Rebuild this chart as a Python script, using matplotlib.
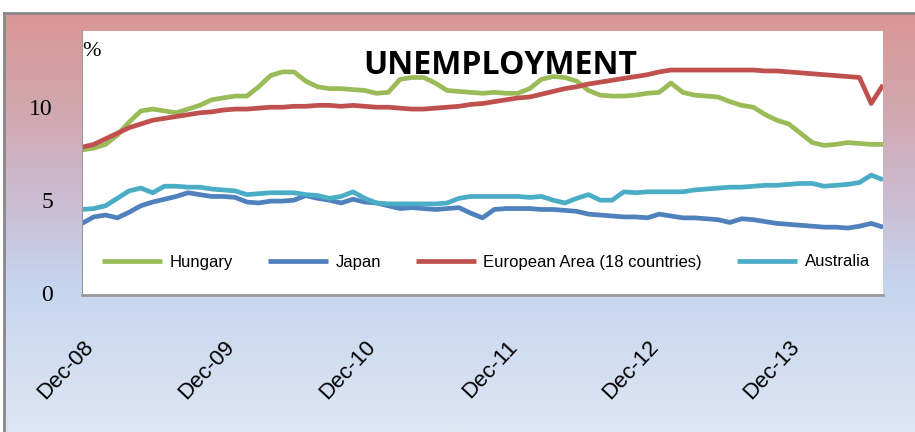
import numpy as np
import matplotlib
matplotlib.use("Agg")
import matplotlib.pyplot as plt
from matplotlib.colors import LinearSegmentedColormap

# monthly unemployment rates, Dec-08 .. Aug-14
hungary = [7.7, 7.8, 8.0, 8.5, 9.2, 9.8, 9.9, 9.8, 9.7, 9.9, 10.1, 10.4,
           10.5, 10.6, 10.6, 11.1, 11.7, 11.9, 11.9, 11.4, 11.1, 11.0, 11.0, 10.95,
           10.9, 10.75, 10.8, 11.5, 11.6, 11.6, 11.3, 10.9, 10.85, 10.8, 10.75, 10.8,
           10.75, 10.75, 11.0, 11.5, 11.65, 11.6, 11.4, 10.9, 10.65, 10.6, 10.6, 10.65,
           10.75, 10.8, 11.3, 10.8, 10.65, 10.6, 10.55, 10.3, 10.1, 10.0, 9.6, 9.3,
           9.1, 8.6, 8.1, 7.95, 8.0, 8.1, 8.05, 8.0, 8.0]
japan = [3.75, 4.1, 4.2, 4.05, 4.35, 4.7, 4.9, 5.05, 5.2, 5.4, 5.3, 5.2,
         5.2, 5.15, 4.9, 4.85, 4.95, 4.95, 5.0, 5.25, 5.1, 5.0, 4.85, 5.05,
         4.9, 4.85, 4.7, 4.55, 4.6, 4.55, 4.5, 4.55, 4.6, 4.3, 4.05, 4.5,
         4.55, 4.55, 4.55, 4.5, 4.5, 4.45, 4.4, 4.25, 4.2, 4.15, 4.1, 4.1,
         4.05, 4.25, 4.15, 4.05, 4.05, 4.0, 3.95, 3.8, 4.0, 3.95, 3.85, 3.75,
         3.7, 3.65, 3.6, 3.55, 3.55, 3.5, 3.6, 3.75, 3.55]
euro_area = [7.85, 8.0, 8.3, 8.6, 8.9, 9.1, 9.3, 9.4, 9.5, 9.6, 9.7, 9.75,
             9.85, 9.9, 9.9, 9.95, 10.0, 10.0, 10.05, 10.05, 10.1, 10.1, 10.05, 10.1,
             10.05, 10.0, 10.0, 9.95, 9.9, 9.9, 9.95, 10.0, 10.05, 10.15, 10.2, 10.3,
             10.4, 10.5, 10.55, 10.7, 10.85, 11.0, 11.1, 11.25, 11.35, 11.45, 11.55, 11.65,
             11.75, 11.9, 12.0, 12.0, 12.0, 12.0, 12.0, 12.0, 12.0, 12.0, 11.95, 11.95,
             11.9, 11.85, 11.8, 11.75, 11.7, 11.65, 11.6, 10.2, 11.2]
australia = [4.5, 4.55, 4.7, 5.1, 5.5, 5.65, 5.4, 5.75, 5.75, 5.7, 5.7, 5.6,
             5.55, 5.5, 5.3, 5.35, 5.4, 5.4, 5.4, 5.3, 5.25, 5.1, 5.2, 5.45,
             5.1, 4.85, 4.8, 4.8, 4.8, 4.8, 4.8, 4.85, 5.1, 5.2, 5.2, 5.2,
             5.2, 5.2, 5.15, 5.2, 5.0, 4.85, 5.1, 5.3, 5.0, 5.0, 5.45, 5.4,
             5.45, 5.45, 5.45, 5.45, 5.55, 5.6, 5.65, 5.7, 5.7, 5.75, 5.8, 5.8,
             5.85, 5.9, 5.9, 5.75, 5.8, 5.85, 5.95, 6.35, 6.1]

tick_pos = [0, 12, 24, 36, 48, 60]
tick_labels = ["Dec-08", "Dec-09", "Dec-10", "Dec-11", "Dec-12", "Dec-13"]
y_ticks = [0, 5, 10]

series = [
    ("Hungary", hungary, "#9BBB59"),
    ("Japan", japan, "#4F81BD"),
    ("European Area (18 countries)", euro_area, "#C0504D"),
    ("Australia", australia, "#4BACC6"),
]

fig = plt.figure(figsize=(9.15, 4.32), dpi=100)
fig.patch.set_facecolor("white")

# gradient backdrop with grey frame (top/left)
bg = fig.add_axes([4 / 915, 0, 1, (432 - 13) / 432])
grad = LinearSegmentedColormap.from_list(
    "bg", [(0.0, "#DA9694"), (0.25, "#D1A9B2"), (0.5, "#C9C2DA"),
           (0.65, "#C6D5EE"), (1.0, "#DDE6F4")])
bg.imshow(np.linspace(0, 1, 256).reshape(-1, 1), aspect="auto", cmap=grad,
          extent=[0, 1, 0, 1], origin="upper")
bg.set_xlim(0, 1)
bg.set_ylim(0, 1)
bg.set_xticks([])
bg.set_yticks([])
for side in ["right", "bottom"]:
    bg.spines[side].set_visible(False)
for side in ["left", "top"]:
    bg.spines[side].set_color("#888888")
    bg.spines[side].set_linewidth(2)

ax = fig.add_axes([82 / 915, (432 - 295) / 432, 801 / 915, 264 / 432])
ax.set_facecolor("white")
x = np.arange(len(hungary))
for name, vals, col in series:
    ax.plot(x, vals, color=col, lw=3.4, label=name, solid_capstyle="butt")

ax.set_xlim(0, len(hungary) - 1)
ax.set_ylim(-0.1, 14.1)
ax.set_yticks(y_ticks)
ax.set_yticklabels([str(t) for t in y_ticks], family="Liberation Serif", fontsize=17)
ax.set_xticks(tick_pos)
ax.set_xticklabels(tick_labels, rotation=47, ha="right", va="top",
                   rotation_mode="anchor", fontsize=16, family="Liberation Sans")
ax.tick_params(axis="y", length=0, pad=21)
ax.tick_params(axis="x", length=0, pad=30)
for side in ["top", "right"]:
    ax.spines[side].set_visible(False)
ax.spines["left"].set_color("#999999")
ax.spines["bottom"].set_color("#999999")
ax.spines["bottom"].set_linewidth(2)

ax.text(0.0, 0.96, "%", transform=ax.transAxes, family="Liberation Serif",
        fontsize=16, ha="left", va="top")
ax.text(0.522, 0.87, "UNEMPLOYMENT", transform=ax.transAxes, family="Open Sans",
        fontweight="bold", fontsize=23, ha="center", va="center")

ax.legend(loc="center left", bbox_to_anchor=(0.025, 0.125), ncol=4, frameon=False,
          prop={"family": "Liberation Sans", "size": 12}, handlelength=3.6,
          handletextpad=0.45, columnspacing=2.1, borderpad=0, borderaxespad=0)

fig.savefig("out.png", dpi=100)
